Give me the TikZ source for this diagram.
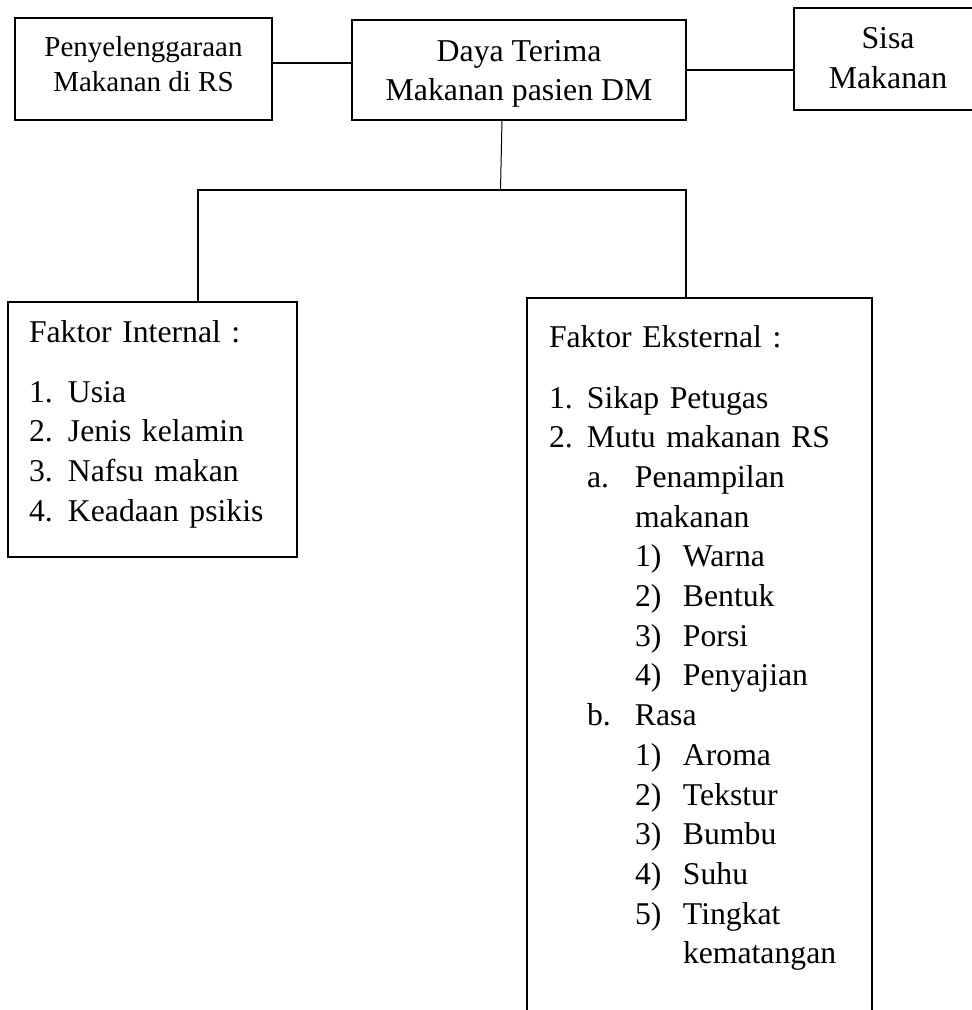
\documentclass[tikz,border=0pt]{standalone}
\usepackage{fontspec}
\setmainfont{Liberation Serif}
\newcommand{\lblI}[1]{\makebox[39pt][l]{#1}}
\newcommand{\lblE}[1]{\makebox[38pt][l]{#1}}
\newcommand{\lblEa}[1]{\hspace*{38pt}\makebox[48pt][l]{#1}}
\newcommand{\lblEb}[1]{\hspace*{86pt}\makebox[48pt][l]{#1}}
\begin{document}
\begin{tikzpicture}[x=1pt,y=-1pt,
  box/.style={draw, line width=2.3pt, inner sep=0pt, outer sep=0pt, anchor=base},
  topfont/.style={font=\fontsize{31.8}{39}\selectfont},
  listbox/.style={inner sep=0pt, outer sep=0pt, anchor=base west, align=left,
     font=\fontsize{31.7}{39.7}\selectfont},
  boxline/.style={line width=2.3pt},
  conn/.style={line width=1.7pt},
  thinconn/.style={line width=1pt},
  barline/.style={line width=2.5pt}]
\useasboundingbox (0,0) rectangle (972,1010);
\clip (0,0) rectangle (972,1010);

% top row
\node[box, minimum width=257pt, text height=38pt, text depth=64pt,
      font=\fontsize{29}{35.7}\selectfont] (ta) at (143.5,56)
  {\begin{tabular}[t]{@{}c@{}}Penyelenggaraan\\Makanan di RS\end{tabular}};
\node[box, topfont, minimum width=334pt, text height=41.5pt, text depth=58.5pt] (tb) at (519,61.5)
  {\begin{tabular}[t]{@{}c@{}}Daya Terima\\Makanan pasien DM\end{tabular}};
\node[box, draw=none, font=\fontsize{31.8}{40}\selectfont, minimum width=188pt, text height=40.3pt, text depth=61.7pt] (tc) at (888,48.3)
  {\begin{tabular}[t]{@{}c@{}}Sisa\\Makanan\end{tabular}};
\draw[boxline] ([xshift=40pt]tc.north east) -- (tc.north west) -- (tc.south west) -- ([xshift=40pt]tc.south east);

% bottom boxes
\node[listbox, draw, line width=2.3pt, inner xsep=21pt, text width=247pt,
      text height=40pt, text depth=215pt] (fi) at (8,342)
  {\begin{tabular}[t]{@{}l@{}}
   Faktor Internal :\\[20.3pt]
   \lblI{1.}Usia\\
   \lblI{2.}Jenis kelamin\\
   \lblI{3.}Nafsu makan\\
   \lblI{4.}Keadaan psikis
   \end{tabular}};
\node[listbox, inner xsep=22pt, text width=301pt,
      text height=49pt, text depth=668pt] (fe) at (527,347)
  {\begin{tabular}[t]{@{}l@{}}
   Faktor Eksternal :\\[21.3pt]
   \lblE{1.}Sikap Petugas\\
   \lblE{2.}Mutu makanan RS\\
   \lblEa{a.}Penampilan\\
   \hspace*{86pt}makanan\\
   \lblEb{1)}Warna\\
   \lblEb{2)}Bentuk\\
   \lblEb{3)}Porsi\\
   \lblEb{4)}Penyajian\\
   \lblEa{b.}Rasa\\
   \lblEb{1)}Aroma\\
   \lblEb{2)}Tekstur\\
   \lblEb{3)}Bumbu\\
   \lblEb{4)}Suhu\\
   \lblEb{5)}Tingkat\\
   \hspace*{134pt}kematangan
   \end{tabular}};
\draw[boxline] (fe.south west) -- (fe.north west) -- (fe.north east) -- (fe.south east);

% connectors
\coordinate (y1) at (0,63);
\coordinate (y2) at (0,70);
\coordinate (hub) at (500.5,190);
\coordinate (bl) at (198,190);
\coordinate (br) at (686,190);
\draw[conn] (ta.east |- y1) -- (tb.west |- y1);
\draw[conn] (tb.east |- y2) -- (tc.west |- y2);
\draw[thinconn] ([xshift=-17pt]tb.south) -- (hub);
\draw[barline] (bl |- fi.north) -- (bl) -- (br) -- (br |- fe.north);
\end{tikzpicture}
\end{document}
